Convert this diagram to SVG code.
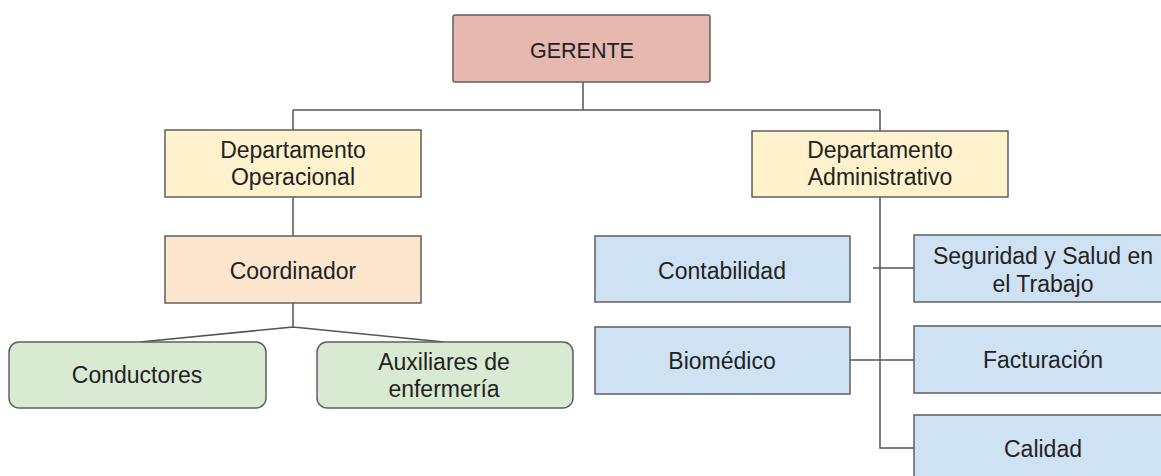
<svg xmlns="http://www.w3.org/2000/svg" width="1161" height="476" viewBox="0 0 1161 476">
<style>
.box{stroke:#5f5f5f;stroke-width:1.5}
.red{fill:#e6b8af}
.yel{fill:#fff2cc}
.org{fill:#fce5cd}
.grn{fill:#d9ead3}
.blu{fill:#cfe2f3}
text{font-family:"Liberation Sans",Arial,sans-serif;font-size:23px;fill:#222;text-anchor:middle}
.conn{stroke:#555;stroke-width:1.5;fill:none}
</style>
<rect width="1161" height="476" fill="#fff"/>
<g id="connectors">
<path class="conn" d="M583 82V110M293 110H880M293 110V130M880 110V131M293 197V236M293 303V327L140 342M293 327L444 342M880 197V448H914M873 268H914M850 360H914"/>
</g>
<g id="gerente"><rect class="box red" x="453" y="15" width="257" height="67" rx="2"/><text x="582" y="58" style="font-size:21.5px">GERENTE</text></g>
<g id="dep-operacional"><rect class="box yel" x="165" y="130" width="256" height="67"/><text x="293" y="158">Departamento</text><text x="293" y="185">Operacional</text></g>
<g id="dep-administrativo"><rect class="box yel" x="752" y="131" width="256" height="66"/><text x="880" y="158">Departamento</text><text x="880" y="185">Administrativo</text></g>
<g id="coordinador"><rect class="box org" x="165" y="236" width="256" height="67"/><text x="293" y="279">Coordinador</text></g>
<g id="conductores"><rect class="box grn" x="9" y="342" width="257" height="66" rx="10"/><text x="137" y="383">Conductores</text></g>
<g id="auxiliares"><rect class="box grn" x="317" y="342" width="256" height="66" rx="10"/><text x="444" y="370">Auxiliares de</text><text x="444" y="397">enfermería</text></g>
<g id="contabilidad"><rect class="box blu" x="595" y="236" width="255" height="66"/><text x="722" y="279">Contabilidad</text></g>
<g id="biomedico"><rect class="box blu" x="595" y="327" width="255" height="67"/><text x="722" y="369">Biomédico</text></g>
<g id="seguridad"><rect class="box blu" x="914" y="235" width="260" height="67"/><text x="1043" y="264">Seguridad y Salud en</text><text x="1043" y="292">el Trabajo</text></g>
<g id="facturacion"><rect class="box blu" x="914" y="326" width="260" height="67"/><text x="1043" y="368">Facturación</text></g>
<g id="calidad"><rect class="box blu" x="914" y="415" width="260" height="70"/><text x="1043" y="457">Calidad</text></g>
</svg>
